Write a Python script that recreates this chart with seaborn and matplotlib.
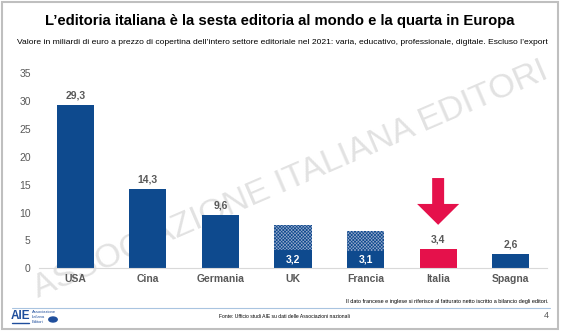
import matplotlib
matplotlib.use("Agg")
import matplotlib.pyplot as plt
import seaborn as sns
import pandas as pd
from matplotlib.patches import FancyArrow, Rectangle, Circle
from matplotlib.lines import Line2D

countries = ["USA", "Cina", "Germania", "UK", "Francia", "Italia", "Spagna"]
values = [29.3, 14.3, 9.6, 3.2, 3.1, 3.4, 2.6]
totals = [29.3, 14.3, 9.6, 7.8, 6.7, 3.4, 2.6]
value_labels = ["29,3", "14,3", "9,6", "3,2", "3,1", "3,4", "2,6"]
hatched = ["UK", "Francia"]
highlight = "Italia"
yticks = [0, 5, 10, 15, 20, 25, 30, 35]

title = "L\u2019editoria italiana è la sesta editoria al mondo e la quarta in Europa"
subtitle = ("Valore in miliardi di euro a prezzo di copertina dell\u2019intero settore editoriale nel 2021: "
            "varia, educativo, professionale, digitale. Escluso l\u2019export")
note = "Il dato francese e inglese si riferisce al fatturato netto iscritto a bilancio degli editori."
source = "Fonte: Ufficio studi AIE su dati delle Associazioni nazionali"
watermark = "ASSOCIAZIONE ITALIANA EDITORI"

NAVY = "#0E4A8E"
RED = "#E5114B"
GRAY = "#595959"

sns.set_theme(style="white")
plt.rcParams["font.family"] = ["Liberation Sans", "DejaVu Sans"]
plt.rcParams["hatch.linewidth"] = 0.5

df = pd.DataFrame({"country": countries, "value": values, "total": totals})
colors = [RED if c == highlight else NAVY for c in countries]

fig = plt.figure(figsize=(5.61, 3.31), dpi=100)

# watermark (behind everything)
fig.text(291 / 561, 1 - 180 / 331, watermark, ha="center", va="center",
         rotation=23.3, rotation_mode="anchor", fontsize=24.5, color="#E2E2E2",
         zorder=-5)

ax = fig.add_axes([39 / 561, 1 - 268.3 / 331, 508 / 561, (268.3 - 73.3) / 331])
ax.set_zorder(1)

# hatched totals
sns.barplot(data=df, x="country", y="total", hue="country", palette=["white"] * 7,
            legend=False, width=0.51, ax=ax, saturation=1)
for p, c in zip(ax.patches, countries):
    if c in hatched:
        p.set_facecolor("#96A8CA")
        p.set_hatch("xxxxxxxxxx")
        p.set_edgecolor(NAVY)
        p.set_linewidth(0)
    else:
        p.set_visible(False)
n0 = len(ax.patches)
sns.barplot(data=df, x="country", y="value", hue="country", palette=colors,
            legend=False, width=0.51, ax=ax, saturation=1)
for p in ax.patches[n0:]:
    p.set_edgecolor("none")

for i, (c, v, lab) in enumerate(zip(countries, values, value_labels)):
    if c in hatched:
        ax.text(i, v / 2, lab, ha="center", va="center", color="white",
                fontsize=7.5, fontweight="bold")
    else:
        ax.text(i, v + 0.8, lab, ha="center", va="bottom", color=GRAY,
                fontsize=7.5, fontweight="bold")

# arrow above Italia
idx = countries.index(highlight)
ax.add_patch(FancyArrow(idx, 16.2, 0, -8.4, width=0.165, head_width=0.58,
                        head_length=3.75, length_includes_head=True,
                        color=RED, lw=0))

ax.set_ylim(0, 35)
ax.set_xlim(-0.5, 6.5)
ax.set_yticks(yticks)
ax.set_yticklabels([str(t) for t in yticks], color=GRAY, fontsize=7.5)
ax.tick_params(axis="y", length=0, pad=6)
ax.tick_params(axis="x", length=0, pad=4)
for lbl in ax.get_xticklabels():
    lbl.set_fontweight("bold")
    lbl.set_color(GRAY)
    lbl.set_fontsize(7.5)
ax.set_xlabel("")
ax.set_ylabel("")
for s in ["left", "right", "top"]:
    ax.spines[s].set_visible(False)
ax.spines["bottom"].set_color("#D9D9D9")
ax.spines["bottom"].set_linewidth(0.8)
ax.patch.set_alpha(0)

# texts
fig.text(280 / 561, 1 - 21 / 331, title, ha="center", va="center", fontsize=10.7,
         fontweight="bold", color="black")
fig.text(282 / 561, 1 - 42 / 331, subtitle, ha="center", va="center", fontsize=6.1,
         color="black")
fig.text(549 / 561, 1 - 302 / 331, note, ha="right", va="center", fontsize=4.0,
         color="black")
fig.text(284 / 561, 1 - 316 / 331, source, ha="center", va="center", fontsize=3.6,
         color="black")
fig.text(549 / 561, 1 - 316 / 331, "4", ha="right", va="center", fontsize=6.5,
         color=GRAY)

# footer line & frame
fig.add_artist(Line2D([12 / 561, 550 / 561], [1 - 307.5 / 331] * 2,
                      color="#A9C4E0", lw=0.8, transform=fig.transFigure))
fig.add_artist(Rectangle((2 / 561, 2 / 331), 556 / 561, 327 / 331, fill=False,
                         edgecolor="#BFBFBF", lw=1.5, transform=fig.transFigure))

# logo
fig.text(11 / 561, 1 - 316 / 331, "AIE", ha="left", va="center", fontsize=8.5,
         fontweight="bold", color="#1F4E9C")
fig.add_artist(Line2D([12 / 561, 29 / 561], [1 - 322.5 / 331] * 2, color="#1F4E9C",
                      lw=1, transform=fig.transFigure))
fig.text(32 / 561, 1 - 317 / 331, "Associazione\nItaliana\nEditori", ha="left",
         va="center", fontsize=3.0, color="#1F4E9C", linespacing=1.2)
fig.add_artist(Circle((53 / 561, 1 - 319.5 / 331), 0.0075, color="#1F4E9C",
                      transform=fig.transFigure))

fig.savefig("out.png", dpi=100)
